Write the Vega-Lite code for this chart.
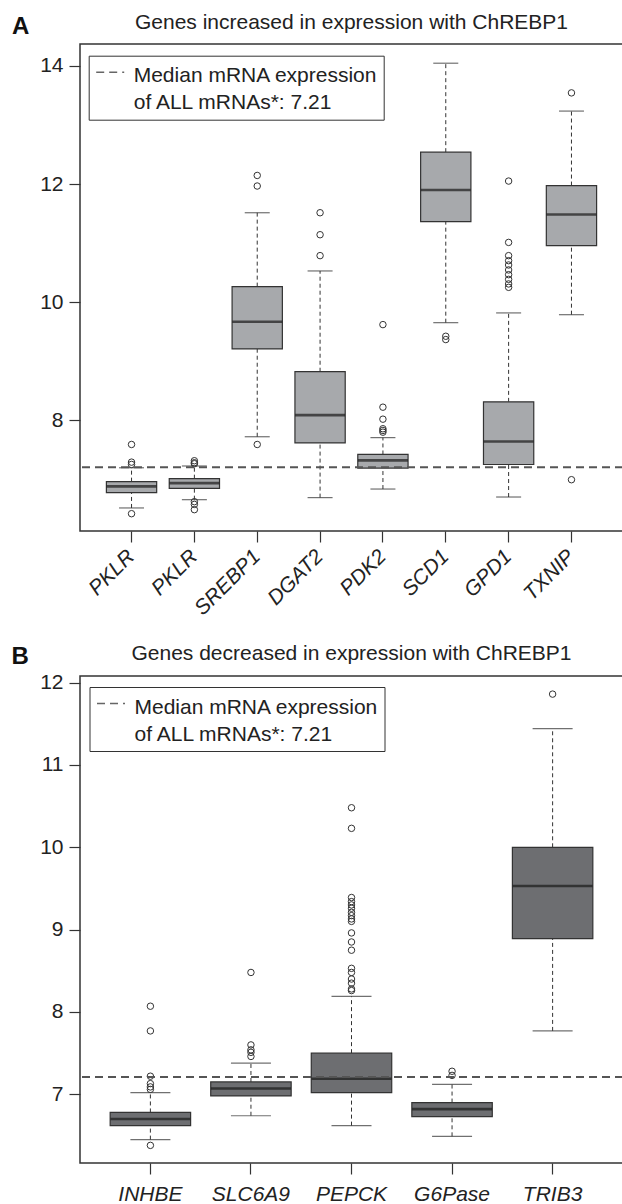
{
  "$schema": "https://vega.github.io/schema/vega-lite/v6.json",
  "padding": {"left": 10, "top": 11, "right": 0, "bottom": 0},
  "background": "white",
  "datasets": {
    "boxA": [
      {"gene": "PKLR_1", "lower": 6.52, "q1": 6.78, "median": 6.885, "q3": 6.965, "upper": 7.2},
      {"gene": "PKLR_2", "lower": 6.66, "q1": 6.85, "median": 6.94, "q3": 7.015, "upper": 7.23},
      {"gene": "SREBP1", "lower": 7.725, "q1": 9.21, "median": 9.67, "q3": 10.265, "upper": 11.515},
      {"gene": "DGAT2", "lower": 6.695, "q1": 7.62, "median": 8.09, "q3": 8.825, "upper": 10.53},
      {"gene": "PDK2", "lower": 6.84, "q1": 7.195, "median": 7.325, "q3": 7.425, "upper": 7.71},
      {"gene": "SCD1", "lower": 9.655, "q1": 11.365, "median": 11.9, "q3": 12.54, "upper": 14.045},
      {"gene": "GPD1", "lower": 6.705, "q1": 7.255, "median": 7.645, "q3": 8.315, "upper": 9.82},
      {"gene": "TXNIP", "lower": 9.79, "q1": 10.96, "median": 11.485, "q3": 11.975, "upper": 13.235}
    ],
    "outA": [
      {"gene": "PKLR_1", "value": 7.594}, {"gene": "PKLR_1", "value": 7.295}, {"gene": "PKLR_1", "value": 7.256}, {"gene": "PKLR_1", "value": 6.423},
      {"gene": "PKLR_2", "value": 7.319}, {"gene": "PKLR_2", "value": 7.285}, {"gene": "PKLR_2", "value": 7.268}, {"gene": "PKLR_2", "value": 6.626}, {"gene": "PKLR_2", "value": 6.58}, {"gene": "PKLR_2", "value": 6.491},
      {"gene": "SREBP1", "value": 12.146}, {"gene": "SREBP1", "value": 11.967}, {"gene": "SREBP1", "value": 7.594},
      {"gene": "DGAT2", "value": 11.515}, {"gene": "DGAT2", "value": 11.143}, {"gene": "DGAT2", "value": 10.789},
      {"gene": "PDK2", "value": 9.622}, {"gene": "PDK2", "value": 8.225}, {"gene": "PDK2", "value": 8.022}, {"gene": "PDK2", "value": 7.86}, {"gene": "PDK2", "value": 7.831}, {"gene": "PDK2", "value": 7.802},
      {"gene": "SCD1", "value": 9.425}, {"gene": "SCD1", "value": 9.369},
      {"gene": "GPD1", "value": 12.051}, {"gene": "GPD1", "value": 11.013}, {"gene": "GPD1", "value": 10.789}, {"gene": "GPD1", "value": 10.704}, {"gene": "GPD1", "value": 10.631}, {"gene": "GPD1", "value": 10.547}, {"gene": "GPD1", "value": 10.467}, {"gene": "GPD1", "value": 10.388}, {"gene": "GPD1", "value": 10.31}, {"gene": "GPD1", "value": 10.253},
      {"gene": "TXNIP", "value": 13.543}, {"gene": "TXNIP", "value": 6.998}
    ],
    "boxB": [
      {"gene": "INHBE", "lower": 6.45, "q1": 6.62, "median": 6.7, "q3": 6.78, "upper": 7.02},
      {"gene": "SLC6A9", "lower": 6.74, "q1": 6.98, "median": 7.07, "q3": 7.15, "upper": 7.38},
      {"gene": "PEPCK", "lower": 6.62, "q1": 7.02, "median": 7.19, "q3": 7.5, "upper": 8.19},
      {"gene": "G6Pase", "lower": 6.49, "q1": 6.73, "median": 6.82, "q3": 6.9, "upper": 7.12},
      {"gene": "TRIB3", "lower": 7.77, "q1": 8.89, "median": 9.53, "q3": 10.0, "upper": 11.44}
    ],
    "outB": [
      {"gene": "INHBE", "value": 8.07}, {"gene": "INHBE", "value": 7.77}, {"gene": "INHBE", "value": 7.22}, {"gene": "INHBE", "value": 7.13}, {"gene": "INHBE", "value": 7.09}, {"gene": "INHBE", "value": 7.06}, {"gene": "INHBE", "value": 6.38},
      {"gene": "SLC6A9", "value": 8.48}, {"gene": "SLC6A9", "value": 7.6}, {"gene": "SLC6A9", "value": 7.54}, {"gene": "SLC6A9", "value": 7.51}, {"gene": "SLC6A9", "value": 7.46},
      {"gene": "PEPCK", "value": 10.48}, {"gene": "PEPCK", "value": 10.23}, {"gene": "PEPCK", "value": 9.39}, {"gene": "PEPCK", "value": 9.34}, {"gene": "PEPCK", "value": 9.3}, {"gene": "PEPCK", "value": 9.26}, {"gene": "PEPCK", "value": 9.21}, {"gene": "PEPCK", "value": 9.17}, {"gene": "PEPCK", "value": 9.13}, {"gene": "PEPCK", "value": 9.1}, {"gene": "PEPCK", "value": 8.96}, {"gene": "PEPCK", "value": 8.85}, {"gene": "PEPCK", "value": 8.75}, {"gene": "PEPCK", "value": 8.53}, {"gene": "PEPCK", "value": 8.48}, {"gene": "PEPCK", "value": 8.4}, {"gene": "PEPCK", "value": 8.35}, {"gene": "PEPCK", "value": 8.28}, {"gene": "PEPCK", "value": 8.26},
      {"gene": "G6Pase", "value": 7.28}, {"gene": "G6Pase", "value": 7.23},
      {"gene": "TRIB3", "value": 11.86}
    ],
    "refLine": [
      {"label": "Median mRNA expression|of ALL mRNAs*: 7.21", "y": 7.21}
    ]
  },
  "vconcat": [
    {
      "width": 543,
      "height": 487,
      "title": {"text": "Genes increased in expression with ChREBP1", "offset": 0, "dy": 19},
      "layer": [
        {
          "data": {"name": "boxA"},
          "mark": {"type": "rule", "color": "#333", "strokeWidth": 1, "strokeDash": [4, 3]},
          "encoding": {
            "x": {"field": "gene", "type": "nominal", "scale": {"domain": ["PKLR_1", "PKLR_2", "SREBP1", "DGAT2", "PDK2", "SCD1", "GPD1", "TXNIP"], "paddingInner": 0.2, "paddingOuter": 0.42}, "axis": {"title": null, "labelAngle": -45, "labelAlign": "right", "labelBaseline": "middle", "labelFontStyle": "italic", "labelPadding": 11, "labelExpr": "split(datum.label, '_')[0]"}},
            "y": {"field": "q3", "type": "quantitative", "scale": {"domain": [6.13, 14.37], "nice": false, "zero": false}, "axis": {"values": [8, 10, 12, 14], "format": "d", "title": "A", "titleAngle": 0, "titleFontSize": 24, "titleFontWeight": "bold", "titleAlign": "left", "titleBaseline": "alphabetic", "titleX": -68.6, "titleY": -10.6, "titleColor": "#111", "labelPadding": 6}},
            "y2": {"field": "upper"}
          }
        },
        {
          "data": {"name": "boxA"},
          "mark": {"type": "rule", "color": "#333", "strokeWidth": 1, "strokeDash": [4, 3]},
          "encoding": {
            "x": {"field": "gene", "type": "nominal"},
            "y": {"field": "lower", "type": "quantitative"},
            "y2": {"field": "q1"}
          }
        },
        {
          "data": {"name": "boxA"},
          "mark": {"type": "bar", "fill": "#a7a9ac", "stroke": "#333", "strokeWidth": 1.2},
          "encoding": {
            "x": {"field": "gene", "type": "nominal"},
            "y": {"field": "q1", "type": "quantitative"},
            "y2": {"field": "q3"}
          }
        },
        {
          "data": {"name": "boxA"},
          "mark": {"type": "tick", "color": "#1a1a1a", "size": 50, "thickness": 2.6},
          "encoding": {
            "x": {"field": "gene", "type": "nominal"},
            "y": {"field": "median", "type": "quantitative"}
          }
        },
        {
          "data": {"name": "boxA"},
          "mark": {"type": "tick", "color": "#333", "size": 25, "thickness": 1.2},
          "encoding": {
            "x": {"field": "gene", "type": "nominal"},
            "y": {"field": "upper", "type": "quantitative"}
          }
        },
        {
          "data": {"name": "boxA"},
          "mark": {"type": "tick", "color": "#333", "size": 25, "thickness": 1.2},
          "encoding": {
            "x": {"field": "gene", "type": "nominal"},
            "y": {"field": "lower", "type": "quantitative"}
          }
        },
        {
          "data": {"name": "outA"},
          "mark": {"type": "point", "shape": "circle", "filled": false, "size": 42, "stroke": "#333", "strokeWidth": 1, "opacity": 1},
          "encoding": {
            "x": {"field": "gene", "type": "nominal"},
            "y": {"field": "value", "type": "quantitative"}
          }
        },
        {
          "data": {"name": "refLine"},
          "mark": {"type": "rule", "color": "#555", "strokeWidth": 2},
          "encoding": {
            "y": {"field": "y", "type": "quantitative"},
            "strokeDash": {"field": "label", "type": "nominal", "scale": {"range": [[8, 5]]}, "legend": {"orient": "none", "legendX": 8.7, "legendY": 11.7, "title": null, "strokeColor": "#333", "fillColor": "#ffffff", "padding": 6, "symbolType": "M-2,0H2", "symbolSize": 196, "symbolOffset": 5, "symbolStrokeWidth": 1.5, "symbolStrokeColor": "#666", "labelFontSize": 21, "labelColor": "#222", "labelOffset": 13, "labelLimit": 400, "labelBaseline": "top", "labelExpr": "split(datum.label, '|')", "encoding": {"labels": {"lineHeight": {"value": 27}, "dy": {"value": -7}}}}}
          }
        }
      ]
    },
    {
      "width": 543,
      "height": 487,
      "title": {"text": "Genes decreased in expression with ChREBP1", "offset": 0, "dy": 19},
      "layer": [
        {
          "data": {"name": "boxB"},
          "mark": {"type": "rule", "color": "#333", "strokeWidth": 1, "strokeDash": [4, 3]},
          "encoding": {
            "x": {"field": "gene", "type": "nominal", "scale": {"domain": ["INHBE", "SLC6A9", "PEPCK", "G6Pase", "TRIB3"], "paddingInner": 0.2, "paddingOuter": 0.3}, "axis": {"title": null, "labelAngle": 0, "labelAlign": "center", "labelBaseline": "top", "labelFontStyle": "italic", "labelPadding": 9}},
            "y": {"field": "q3", "type": "quantitative", "scale": {"domain": [6.166, 12.08], "nice": false, "zero": false}, "axis": {"values": [7, 8, 9, 10, 11, 12], "format": "d", "title": "B", "titleAngle": 0, "titleFontSize": 24, "titleFontWeight": "bold", "titleAlign": "left", "titleBaseline": "alphabetic", "titleX": -69, "titleY": -12.4, "titleColor": "#111", "labelPadding": 6}},
            "y2": {"field": "upper"}
          }
        },
        {
          "data": {"name": "boxB"},
          "mark": {"type": "rule", "color": "#333", "strokeWidth": 1, "strokeDash": [4, 3]},
          "encoding": {
            "x": {"field": "gene", "type": "nominal"},
            "y": {"field": "lower", "type": "quantitative"},
            "y2": {"field": "q1"}
          }
        },
        {
          "data": {"name": "boxB"},
          "mark": {"type": "bar", "fill": "#6d6e71", "stroke": "#333", "strokeWidth": 1.2},
          "encoding": {
            "x": {"field": "gene", "type": "nominal"},
            "y": {"field": "q1", "type": "quantitative"},
            "y2": {"field": "q3"}
          }
        },
        {
          "data": {"name": "boxB"},
          "mark": {"type": "tick", "color": "#1a1a1a", "size": 80, "thickness": 2.6},
          "encoding": {
            "x": {"field": "gene", "type": "nominal"},
            "y": {"field": "median", "type": "quantitative"}
          }
        },
        {
          "data": {"name": "boxB"},
          "mark": {"type": "tick", "color": "#333", "size": 40, "thickness": 1.2},
          "encoding": {
            "x": {"field": "gene", "type": "nominal"},
            "y": {"field": "upper", "type": "quantitative"}
          }
        },
        {
          "data": {"name": "boxB"},
          "mark": {"type": "tick", "color": "#333", "size": 40, "thickness": 1.2},
          "encoding": {
            "x": {"field": "gene", "type": "nominal"},
            "y": {"field": "lower", "type": "quantitative"}
          }
        },
        {
          "data": {"name": "outB"},
          "mark": {"type": "point", "shape": "circle", "filled": false, "size": 42, "stroke": "#333", "strokeWidth": 1, "opacity": 1},
          "encoding": {
            "x": {"field": "gene", "type": "nominal"},
            "y": {"field": "value", "type": "quantitative"}
          }
        },
        {
          "data": {"name": "refLine"},
          "mark": {"type": "rule", "color": "#555", "strokeWidth": 2},
          "encoding": {
            "y": {"field": "y", "type": "quantitative"},
            "strokeDash": {"field": "label", "type": "nominal", "scale": {"range": [[8, 5]]}, "legend": {"orient": "none", "legendX": 9.5, "legendY": 11, "title": null, "strokeColor": "#333", "fillColor": "#ffffff", "padding": 6, "symbolType": "M-2,0H2", "symbolSize": 196, "symbolOffset": 5, "symbolStrokeWidth": 1.5, "symbolStrokeColor": "#666", "labelFontSize": 21, "labelColor": "#222", "labelOffset": 13, "labelLimit": 400, "labelBaseline": "top", "labelExpr": "split(datum.label, '|')", "encoding": {"labels": {"lineHeight": {"value": 27}, "dy": {"value": -7}}}}}
          }
        }
      ]
    }
  ],
  "spacing": 145,
  "bounds": "flush",
  "resolve": {
    "scale": {"x": "independent", "y": "independent", "strokeDash": "independent"},
    "axis": {"x": "independent", "y": "independent"},
    "legend": {"strokeDash": "independent"}
  },
  "config": {
    "font": "Liberation Sans",
    "view": {"stroke": "#333", "strokeWidth": 1.5},
    "title": {"font": "Liberation Sans", "fontSize": 21, "fontWeight": "normal", "color": "#222", "anchor": "middle"},
    "axis": {"grid": false, "domain": false, "tickColor": "#333", "tickWidth": 1.2, "tickSize": 11, "labelFont": "Liberation Sans", "labelFontSize": 21, "labelColor": "#222", "titleFont": "Liberation Sans"},
    "legend": {"labelFont": "Liberation Sans"}
  }
}
